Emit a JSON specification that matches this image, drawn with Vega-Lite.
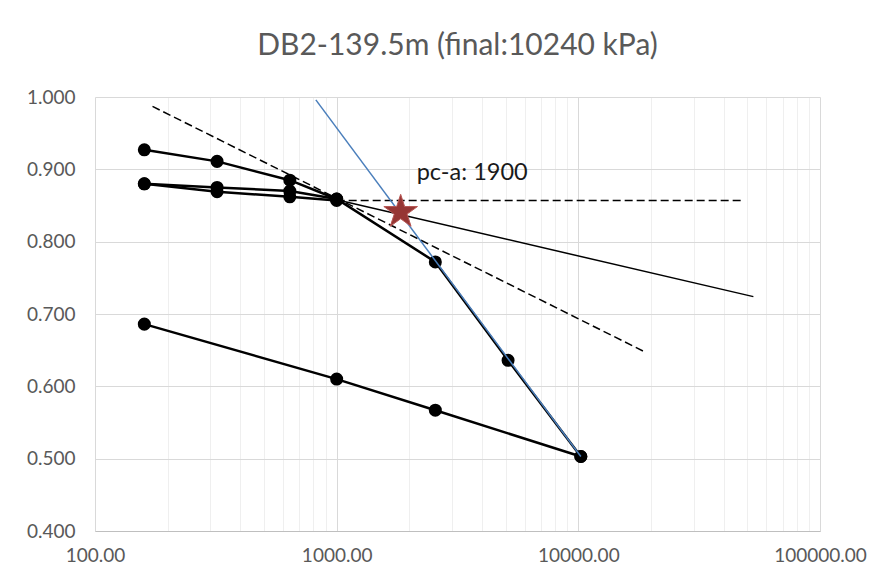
{
  "$schema": "https://vega.github.io/schema/vega-lite/v6.json",
  "width": 725,
  "height": 434,
  "autosize": {"type": "none"},
  "padding": {"left": 95, "top": 97, "right": 61, "bottom": 50},
  "background": "white",
  "config": {
    "font": "Lato",
    "view": {"stroke": null},
    "title": {"font": "Lato", "fontSize": 30, "fontWeight": "normal", "color": "#595959", "anchor": "middle", "offset": 27}
  },
  "title": {"text": "DB2-139.5m (final:10240 kPa)"},
  "datasets": {
    "tests": [
      {"series": "load", "x": 160, "y": 0.927},
      {"series": "load", "x": 320, "y": 0.911},
      {"series": "load", "x": 640, "y": 0.885},
      {"series": "load", "x": 1000, "y": 0.859},
      {"series": "load", "x": 2560, "y": 0.772},
      {"series": "load", "x": 5120, "y": 0.636},
      {"series": "load", "x": 10240, "y": 0.503},
      {"series": "unload", "x": 10240, "y": 0.503},
      {"series": "unload", "x": 2560, "y": 0.567},
      {"series": "unload", "x": 1000, "y": 0.610},
      {"series": "unload", "x": 160, "y": 0.686},
      {"series": "reloadA", "x": 160, "y": 0.880},
      {"series": "reloadA", "x": 320, "y": 0.875},
      {"series": "reloadA", "x": 640, "y": 0.870},
      {"series": "reloadA", "x": 1000, "y": 0.859},
      {"series": "reloadB", "x": 160, "y": 0.880},
      {"series": "reloadB", "x": 320, "y": 0.869},
      {"series": "reloadB", "x": 640, "y": 0.862},
      {"series": "reloadB", "x": 1000, "y": 0.857}
    ],
    "guides": [
      {"series": "tangent", "x": 173, "y": 0.987},
      {"series": "tangent", "x": 19000, "y": 0.647},
      {"series": "horizontal", "x": 1000, "y": 0.857},
      {"series": "horizontal", "x": 47500, "y": 0.857},
      {"series": "bisector", "x": 1000, "y": 0.858},
      {"series": "bisector", "x": 53000, "y": 0.724},
      {"series": "compression", "x": 820, "y": 0.996},
      {"series": "compression", "x": 10240, "y": 0.503}
    ],
    "pc": [{"x": 1840, "y": 0.841, "label": "pc-a: 1900"}]
  },
  "layer": [
    {
      "data": {"name": "guides"},
      "transform": [{"filter": "datum.series === 'tangent'"}],
      "mark": {"type": "line", "color": "black", "strokeWidth": 1.5, "strokeDash": [8, 4]},
      "encoding": {
        "x": {
          "field": "x", "type": "quantitative",
          "scale": {"type": "log", "domain": [100, 100000], "nice": false},
          "axis": {
            "title": null,
            "values": [100, 200, 300, 400, 500, 600, 700, 800, 900, 1000, 2000, 3000, 4000, 5000, 6000, 7000, 8000, 9000, 10000, 20000, 30000, 40000, 50000, 60000, 70000, 80000, 90000, 100000],
            "format": ".2f",
            "labelExpr": "indexof([100, 1000, 10000, 100000], datum.value) >= 0 ? datum.label : ''",
            "gridColor": {"condition": {"test": "indexof([100, 1000, 10000, 100000], datum.value) >= 0", "value": "#d9d9d9"}, "value": "#efefef"},
            "ticks": false,
            "domainColor": "#bfbfbf",
            "labelFont": "Lato",
            "labelFontSize": 19,
            "labelColor": "#595959",
            "labelPadding": 15,
            "labelFlush": false,
            "labelOverlap": false
          }
        },
        "y": {
          "field": "y", "type": "quantitative",
          "scale": {"domain": [0.4, 1.0], "nice": false, "zero": false},
          "axis": {
            "title": null,
            "values": [0.4, 0.5, 0.6, 0.7, 0.8, 0.9, 1.0],
            "format": ".3f",
            "gridColor": "#d9d9d9",
            "domain": false,
            "ticks": false,
            "labelFont": "Lato",
            "labelFontSize": 19,
            "labelColor": "#595959",
            "labelPadding": 20
          }
        }
      }
    },
    {
      "data": {"name": "guides"},
      "transform": [{"filter": "datum.series === 'horizontal'"}],
      "mark": {"type": "line", "color": "black", "strokeWidth": 1.5, "strokeDash": [8, 4]},
      "encoding": {
        "x": {"field": "x", "type": "quantitative"},
        "y": {"field": "y", "type": "quantitative"}
      }
    },
    {
      "data": {"name": "guides"},
      "transform": [{"filter": "datum.series === 'bisector'"}],
      "mark": {"type": "line", "color": "black", "strokeWidth": 1.5},
      "encoding": {
        "x": {"field": "x", "type": "quantitative"},
        "y": {"field": "y", "type": "quantitative"}
      }
    },
    {
      "data": {"name": "tests"},
      "transform": [{"filter": "datum.series === 'load'"}],
      "mark": {"type": "line", "color": "black", "strokeWidth": 2.5},
      "encoding": {
        "x": {"field": "x", "type": "quantitative"},
        "y": {"field": "y", "type": "quantitative"}
      }
    },
    {
      "data": {"name": "tests"},
      "transform": [{"filter": "datum.series === 'unload'"}],
      "mark": {"type": "line", "color": "black", "strokeWidth": 2.5},
      "encoding": {
        "x": {"field": "x", "type": "quantitative"},
        "y": {"field": "y", "type": "quantitative"}
      }
    },
    {
      "data": {"name": "tests"},
      "transform": [{"filter": "datum.series === 'reloadA'"}],
      "mark": {"type": "line", "color": "black", "strokeWidth": 2.5},
      "encoding": {
        "x": {"field": "x", "type": "quantitative"},
        "y": {"field": "y", "type": "quantitative"}
      }
    },
    {
      "data": {"name": "tests"},
      "transform": [{"filter": "datum.series === 'reloadB'"}],
      "mark": {"type": "line", "color": "black", "strokeWidth": 2.5},
      "encoding": {
        "x": {"field": "x", "type": "quantitative"},
        "y": {"field": "y", "type": "quantitative"}
      }
    },
    {
      "data": {"name": "tests"},
      "mark": {"type": "point", "filled": true, "color": "black", "opacity": 1, "size": 170},
      "encoding": {
        "x": {"field": "x", "type": "quantitative"},
        "y": {"field": "y", "type": "quantitative"}
      }
    },
    {
      "data": {"name": "guides"},
      "transform": [{"filter": "datum.series === 'compression'"}],
      "mark": {"type": "line", "color": "#4a7ebb", "strokeWidth": 1.5},
      "encoding": {
        "x": {"field": "x", "type": "quantitative"},
        "y": {"field": "y", "type": "quantitative"}
      }
    },
    {
      "data": {"name": "pc"},
      "mark": {"type": "point", "shape": "M0,-1L0.225,-0.309L0.951,-0.309L0.363,0.118L0.588,0.809L0,0.382L-0.588,0.809L-0.363,0.118L-0.951,-0.309L-0.225,-0.309Z", "filled": true, "fill": "#963634", "stroke": "#b65552", "strokeWidth": 1, "opacity": 1, "size": 1250},
      "encoding": {
        "x": {"field": "x", "type": "quantitative"},
        "y": {"field": "y", "type": "quantitative"}
      }
    },
    {
      "data": {"name": "pc"},
      "mark": {"type": "text", "fontSize": 23.5, "color": "#1a1a1a", "align": "left", "baseline": "alphabetic", "dx": 16, "dy": -32},
      "encoding": {
        "x": {"field": "x", "type": "quantitative"},
        "y": {"field": "y", "type": "quantitative"},
        "text": {"field": "label", "type": "nominal"}
      }
    }
  ]
}
